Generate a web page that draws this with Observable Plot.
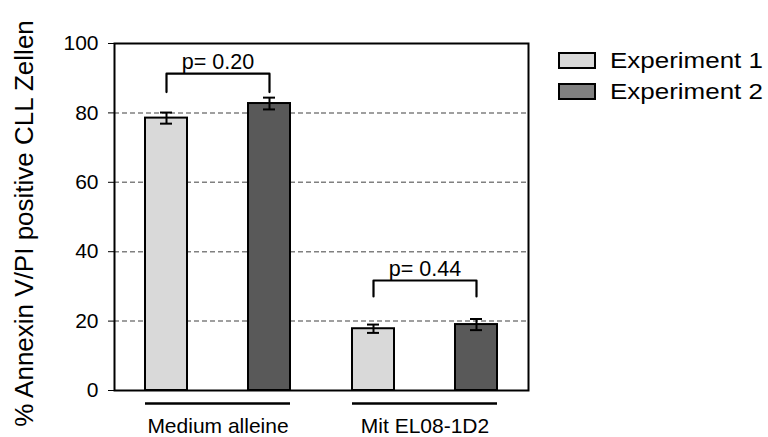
<!DOCTYPE html>
<html>
<head>
<meta charset="utf-8">
<script src="https://cdn.jsdelivr.net/npm/d3@7"></script>
<script src="https://cdn.jsdelivr.net/npm/@observablehq/plot@0.6"></script>
<style>
  body { margin: 0; background: #fff; }
  #wrap { position: relative; width: 768px; height: 437px; font-family: "Liberation Sans", Arial, sans-serif; }
  #legend { position: absolute; left: 558px; top: 45px; }
  .item { display: flex; align-items: center; height: 31px; }
  .sw { width: 34px; height: 13px; border: 2px solid #000; margin-right: 14px; }
  .lab { font-size: 22px; color: #000; display: inline-block; transform: scaleX(1.18); transform-origin: left center; white-space: nowrap; }
</style>
</head>
<body>
<div id="wrap"></div>
<script>
const groups = ["Medium alleine", "Mit EL08-1D2"];
const experiments = ["Experiment 1", "Experiment 2"];
const exp1Values = [78.5, 17.8];
const exp2Values = [82.7, 19.0];
const exp1Errors = [1.6, 1.2];
const exp2Errors = [1.7, 1.6];
const pLabels = ["p= 0.20", "p= 0.44"];
const bracketTop = [91.3, 31.7];
const bracketBottom = [86.0, 27.1];
const yTicks = [0, 20, 40, 60, 80, 100];
const gridValues = [20, 40, 60, 80];
const yLabel = "% Annexin V/PI positive CLL Zellen";
const barColors = ["#d9d9d9", "#595959"];
const legendColors = ["#d9d9d9", "#808080"];

const rows = groups.flatMap((g, i) => [
  {group: g, experiment: experiments[0], value: exp1Values[i], err: exp1Errors[i]},
  {group: g, experiment: experiments[1], value: exp2Values[i], err: exp2Errors[i]}
]);
const brackets = groups.flatMap((g, i) => [
  {group: g, experiment: experiments[0], y: bracketBottom[i]},
  {group: g, experiment: experiments[0], y: bracketTop[i]},
  {group: g, experiment: experiments[1], y: bracketTop[i]},
  {group: g, experiment: experiments[1], y: bracketBottom[i]}
]);
const pRows = groups.map((g, i) => ({group: g, label: pLabels[i], y: bracketTop[i]}));

const chart = Plot.plot({
  width: 768,
  height: 437,
  marginLeft: 113,
  marginRight: 240,
  marginTop: 43,
  marginBottom: 47,
  style: {fontFamily: "Liberation Sans, Arial, sans-serif", fontSize: "21px", color: "#000", background: "#fff"},
  fx: {domain: groups, padding: 0, axis: "bottom", tickSize: 0, tickPadding: 28, label: null},
  x: {domain: experiments, paddingInner: 0.596, paddingOuter: 0.296, axis: null},
  y: {domain: [0, 100], ticks: yTicks, tickSize: 6, tickPadding: 10, label: null},
  color: {domain: experiments, range: barColors},
  marks: [
    Plot.ruleY(gridValues, {stroke: "#808080", strokeWidth: 1.5, strokeDasharray: "5,3"}),
    Plot.barY(rows, {fx: "group", x: "experiment", y: "value", fill: "experiment", stroke: "#000", strokeWidth: 2}),
    Plot.ruleX(rows, {fx: "group", x: "experiment", y1: d => d.value - d.err, y2: d => d.value + d.err, stroke: "#000", strokeWidth: 2}),
    Plot.tickY(rows, {fx: "group", x: "experiment", y: d => d.value - d.err, stroke: "#000", strokeWidth: 2, insetLeft: 15, insetRight: 15}),
    Plot.tickY(rows, {fx: "group", x: "experiment", y: d => d.value + d.err, stroke: "#000", strokeWidth: 2, insetLeft: 15, insetRight: 15}),
    Plot.line(brackets, {fx: "group", x: "experiment", y: "y", z: "group", stroke: "#000", strokeWidth: 2.2}),
    Plot.text(pRows, {fx: "group", y: "y", text: "label", lineAnchor: "bottom", dy: -5, fontSize: 21.5, fill: "#000"}),
    Plot.ruleY([0], {dy: 13, insetLeft: 31, insetRight: 31, stroke: "#000", strokeWidth: 2.5}),
    Plot.frame({facet: "super", stroke: "#000", strokeWidth: 2}),
    Plot.text([yLabel], {facet: "super", frameAnchor: "left", text: d => d, textAnchor: "middle", lineAnchor: "middle", rotate: -90, dx: -90, dy: 6.5, fontSize: 26, fill: "#000"})
  ]
});

const wrap = document.getElementById("wrap");
wrap.appendChild(chart);
const legend = document.createElement("div");
legend.id = "legend";
experiments.forEach((e, i) => {
  const item = document.createElement("div");
  item.className = "item";
  const sw = document.createElement("div");
  sw.className = "sw";
  sw.style.background = legendColors[i];
  const lab = document.createElement("span");
  lab.className = "lab";
  lab.textContent = e;
  item.appendChild(sw);
  item.appendChild(lab);
  legend.appendChild(item);
});
wrap.appendChild(legend);
</script>
</body>
</html>
